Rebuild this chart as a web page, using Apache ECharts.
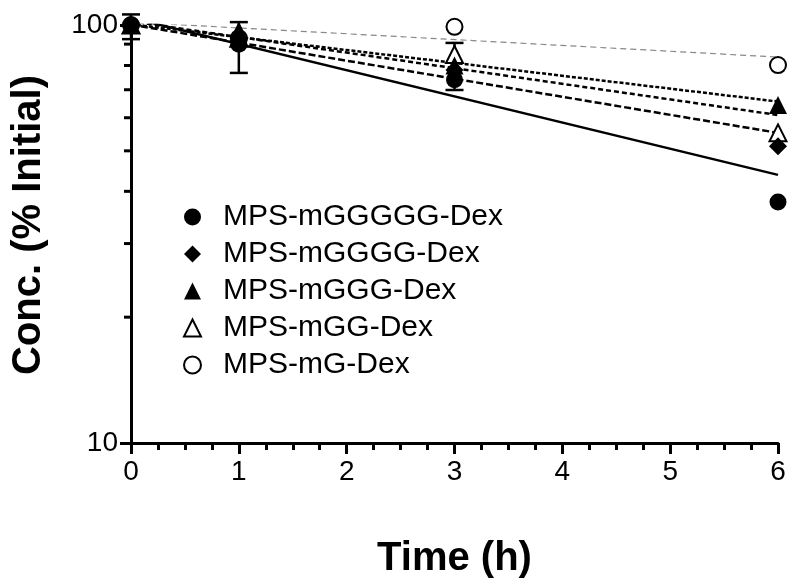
<!DOCTYPE html>
<html>
<head>
<meta charset="utf-8">
<script src="https://cdn.jsdelivr.net/npm/echarts@6/dist/echarts.min.js"></script>
<style>
  html, body { margin: 0; padding: 0; background: #fff; }
  #chart { width: 800px; height: 587px; }
</style>
</head>
<body>
<div id="chart"></div>
<script>
// sampling times (h)
var times = [0, 1, 3, 6];
var names = ['MPS-mGGGGG-Dex', 'MPS-mGGGG-Dex', 'MPS-mGGG-Dex', 'MPS-mGG-Dex', 'MPS-mG-Dex'];

// measured conc. (% initial) at each time
var concG5 = [100, 90, 74, 37.7];
var concG4 = [100, 92, 78, 51.3];
var concG3 = [100, 97, 80, 64.4];
var concG2 = [100, 93, 85, 55.2];
var concG1 = [100, 93, 99, 80.2];

// fitted exponential decay, value at t=0 and t=6
var fitG5 = [104, 43.8];
var fitG4 = [100.2, 55.2];
var fitG3 = [100.4, 65.6];
var fitG2 = [102, 60.9];
var fitG1 = [101.6, 83.8];

// error bars: [time, low, high]
var errBars = [[0, 92.5, 106], [1, 76.8, 101.6], [3, 69.9, 90.6]];

// log axis minor ticks
var yMinorTicks = [20, 30, 40, 50, 60, 70, 80, 90];

var font = 'Liberation Sans, Arial, Helvetica, sans-serif';
var chart = echarts.init(document.getElementById('chart'));

function pts(vals) {
  return times.map(function (t, i) { return [t, vals[i]]; });
}
function fitLine(f, style) {
  return {
    type: 'line', data: [[0, f[0]], [6, f[1]]], symbol: 'none', silent: true,
    lineStyle: style, z: 2
  };
}
// filled markers sit on top of the open ones
function scatter(name, vals, symbol, size, filled) {
  return {
    name: name, type: 'scatter', data: pts(vals), symbol: symbol, symbolSize: size,
    z: filled ? 6 : 5,
    itemStyle: filled ? { color: '#000', opacity: 1 }
      : { color: '#fff', borderColor: '#000', borderWidth: 2, opacity: 1 }
  };
}

var option = {
  animation: false,
  backgroundColor: '#fff',
  grid: { left: 131, right: 22, top: 25, bottom: 144 },
  legend: {
    orient: 'vertical', left: 178, top: 197, itemGap: 7,
    itemWidth: 17, itemHeight: 17,
    data: names,
    textStyle: { fontFamily: font, fontSize: 30, color: '#000', lineHeight: 30, padding: [0, 0, 0, 17] }
  },
  xAxis: {
    type: 'value', min: 0, max: 6, interval: 1,
    name: 'Time (h)', nameLocation: 'middle', nameGap: 96,
    nameTextStyle: { fontFamily: font, fontSize: 40, fontWeight: 'bold', color: '#000' },
    axisLine: { lineStyle: { color: '#000', width: 3 } },
    axisTick: { length: 11, lineStyle: { color: '#000', width: 3 } },
    minorTick: { show: true, splitNumber: 4, length: 7, lineStyle: { color: '#000', width: 3 } },
    axisLabel: { fontFamily: font, fontSize: 28, color: '#000', margin: 15 },
    splitLine: { show: false }
  },
  yAxis: {
    type: 'log', logBase: 10, min: 10, max: 100,
    name: 'Conc. (% Initial)', nameLocation: 'middle', nameGap: 82,
    nameTextStyle: { fontFamily: font, fontSize: 40, fontWeight: 'bold', color: '#000', padding: [0, 0, 0, 18] },
    axisLine: { show: true, lineStyle: { color: '#000', width: 3 } },
    axisTick: { length: 11, lineStyle: { color: '#000', width: 3 } },
    axisLabel: { fontFamily: font, fontSize: 28, color: '#000', margin: 13 },
    splitLine: { show: false }
  },
  series: [
    fitLine(fitG5, { color: '#000', width: 2.5, type: 'solid' }),
    fitLine(fitG4, { color: '#000', width: 2.5, type: [7, 3] }),
    fitLine(fitG3, { color: '#000', width: 2.5, type: [4, 2] }),
    fitLine(fitG2, { color: '#000', width: 2.5, type: [5, 3] }),
    fitLine(fitG1, { color: '#888', width: 1.2, type: [6, 4] }),
    {
      type: 'custom', silent: true, z: 4,
      data: errBars,
      renderItem: function (params, api) {
        var lo = api.coord([api.value(0), api.value(1)]);
        var hi = api.coord([api.value(0), api.value(2)]);
        var w = 9;
        var st = { stroke: '#000', lineWidth: 2.5 };
        return {
          type: 'group', children: [
            { type: 'line', shape: { x1: lo[0], y1: lo[1], x2: hi[0], y2: hi[1] }, style: st },
            { type: 'line', shape: { x1: lo[0] - w, y1: lo[1], x2: lo[0] + w, y2: lo[1] }, style: st },
            { type: 'line', shape: { x1: hi[0] - w, y1: hi[1], x2: hi[0] + w, y2: hi[1] }, style: st }
          ]
        };
      }
    },
    {
      type: 'custom', silent: true, z: 3, clip: false,
      data: yMinorTicks,
      renderItem: function (params, api) {
        var p = api.coord([0, api.value(0)]);
        return {
          type: 'line', shape: { x1: p[0] - 7, y1: p[1], x2: p[0], y2: p[1] },
          style: { stroke: '#000', lineWidth: 3 }
        };
      }
    },
    scatter(names[0], concG5, 'circle', 17, true),
    scatter(names[1], concG4, 'diamond', 18, true),
    scatter(names[2], concG3, 'triangle', 18, true),
    scatter(names[3], concG2, 'triangle', 17, false),
    scatter(names[4], concG1, 'circle', 16, false)
  ]
};
chart.setOption(option);
</script>
</body>
</html>
